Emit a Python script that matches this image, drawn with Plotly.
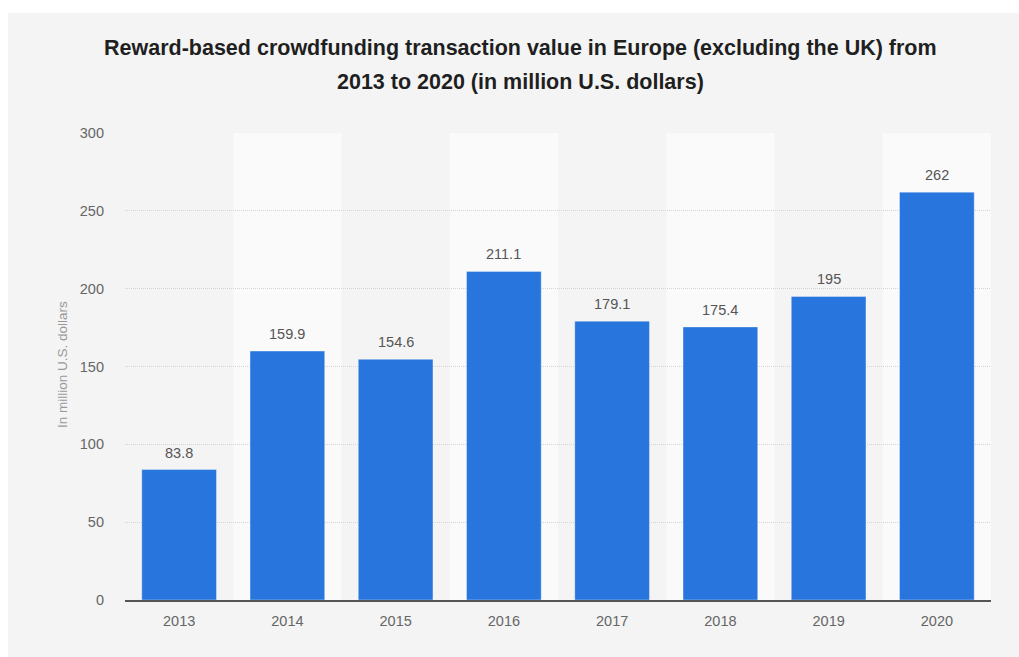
import plotly.graph_objects as go

# Reward-based crowdfunding transaction value, Europe excl. UK (million USD)
years = ["2013", "2014", "2015", "2016", "2017", "2018", "2019", "2020"]
values = [83.8, 159.9, 154.6, 211.1, 179.1, 175.4, 195, 262]
value_labels = ["83.8", "159.9", "154.6", "211.1", "179.1", "175.4", "195", "262"]
y_ticks = [0, 50, 100, 150, 200, 250, 300]

title_lines = [
    "Reward-based crowdfunding transaction value in Europe (excluding the UK) from",
    "2013 to 2020 (in million U.S. dollars)",
]
y_title = "In million U.S. dollars"

W, H = 1019, 657
L, R, T, B = 125, 28, 133, 57
pw, ph = W - L - R, H - T - B

FONT = "Liberation Sans, Arial, Helvetica, sans-serif"
BAR = "#2876dd"
PANEL = "#f4f4f4"
BAND = "#fafafa"

positions = list(range(len(years)))


def px_x(x):
    return (x - L) / pw


def px_y(y):
    return (H - B - y) / ph


fig = go.Figure(
    go.Bar(
        x=positions,
        y=values,
        width=0.69,
        marker=dict(color=BAR, line=dict(color="rgba(255,255,255,0.35)", width=1)),
        customdata=years,
        hovertemplate="%{customdata}: %{y}<extra></extra>",
    )
)

shapes = [
    # white frame strips around the grey panel
    dict(type="rect", xref="paper", yref="paper", x0=px_x(0), x1=px_x(W),
         y0=px_y(13), y1=px_y(0), fillcolor="white", line_width=0, layer="below"),
    dict(type="rect", xref="paper", yref="paper", x0=px_x(0), x1=px_x(8),
         y0=px_y(H), y1=px_y(0), fillcolor="white", line_width=0, layer="below"),
]
# lighter background band behind every second category
for i in positions:
    if i % 2 == 1:
        shapes.append(dict(type="rect", xref="x", yref="paper", x0=i - 0.5, x1=i + 0.5,
                           y0=0, y1=1, fillcolor=BAND, line_width=0, layer="below"))

annotations = []
for i, line in enumerate(title_lines):
    annotations.append(dict(
        text=f"<b>{line}</b>", xref="paper", yref="paper",
        x=px_x(520), y=px_y(48 + 34 * i), xanchor="center", yanchor="middle",
        showarrow=False, font=dict(family=FONT, size=21.5, color="#1f1f1f"),
    ))
annotations.append(dict(
    text=y_title, xref="paper", yref="paper", x=px_x(62), y=px_y(365),
    xanchor="center", yanchor="middle", textangle=-90, showarrow=False,
    font=dict(family=FONT, size=13.5, color="#999999"),
))
for p, v, lab in zip(positions, values, value_labels):
    annotations.append(dict(
        text=lab, x=p, y=v, xref="x", yref="y", yanchor="bottom",
        yshift=7, showarrow=False, font=dict(family=FONT, size=14.5, color="#555555"),
    ))

fig.update_layout(
    width=W, height=H,
    margin=dict(l=L, r=R, t=T, b=B, pad=0),
    paper_bgcolor=PANEL, plot_bgcolor=PANEL,
    showlegend=False,
    shapes=shapes, annotations=annotations,
    font=dict(family=FONT, size=14, color="#666666"),
    xaxis=dict(
        range=[-0.5, len(years) - 0.5], tickvals=positions, ticktext=years,
        showgrid=False, zeroline=False, showline=True, linecolor="#555555",
        linewidth=2, ticks="", ticklabelstandoff=7,
        tickfont=dict(family=FONT, size=14.5, color="#666666"),
    ),
    yaxis=dict(
        range=[0, 300], tickvals=y_ticks, showgrid=True, gridcolor="#d4d4d4",
        griddash="1px,1px", gridwidth=1, zeroline=False, showline=False, ticks="",
        ticklabelstandoff=20, tickfont=dict(family=FONT, size=14.5, color="#666666"),
    ),
)

fig.write_html("out.html")
